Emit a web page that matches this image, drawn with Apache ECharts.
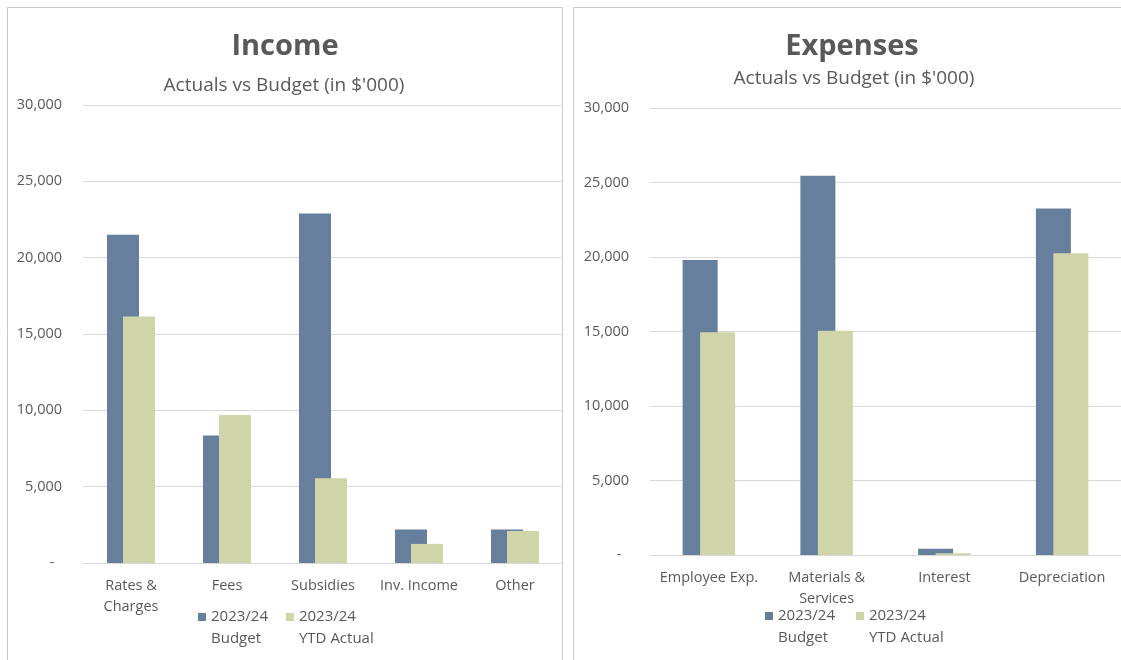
<!DOCTYPE html>
<html>
<head>
<meta charset="utf-8">
<title>Income and Expenses</title>
<script src="https://cdn.jsdelivr.net/npm/echarts@6/dist/echarts.min.js"></script>
<style>
  html, body { margin: 0; padding: 0; background: #ffffff; overflow: hidden; }
  #chart { width: 1121px; height: 660px; }
</style>
</head>
<body>
<div id="chart"></div>
<script>
// Income panel
const incomeCategories = ['Rates &\nCharges', 'Fees', 'Subsidies', 'Inv. Income', 'Other'];
const incomeBudget = [21500, 8350, 22900, 2200, 2200];
const incomeActual = [16150, 9700, 5550, 1250, 2100];

// Expenses panel
const expenseCategories = ['Employee Exp.', 'Materials &\nServices', 'Interest', 'Depreciation'];
const expenseBudget = [19800, 25450, 420, 23250];
const expenseActual = [14950, 15050, 110, 20250];

// Shared value axis
const axisMin = 0;
const axisMax = 30000;
const axisStep = 5000;

const seriesNames = ['2023/24 Budget', '2023/24 YTD Actual'];

const FONT = '"Open Sans", "Noto Sans", sans-serif';
const TEXT = '#595959';
const GRID = '#d9d9d9';
const BUDGET = '#657f9c';
const ACTUAL = '#d0d5a9';

const chart = echarts.init(document.getElementById('chart'), null, { renderer: 'canvas' });

function valueAxis(gridIndex) {
  return {
    type: 'value',
    gridIndex: gridIndex,
    min: axisMin,
    max: axisMax,
    interval: axisStep,
    axisLine: { show: false },
    axisTick: { show: false },
    splitLine: { lineStyle: { color: GRID, width: 1 } },
    axisLabel: {
      margin: 21,
      color: TEXT,
      fontFamily: FONT,
      fontSize: 14.5,
      formatter: v => (v === 0 ? '-  ' : v.toLocaleString('en-US'))
    }
  };
}

function categoryAxis(gridIndex, data) {
  return {
    type: 'category',
    gridIndex: gridIndex,
    data: data,
    axisTick: { show: false },
    axisLine: { lineStyle: { color: GRID, width: 1 } },
    axisLabel: {
      margin: 12,
      interval: 0,
      color: TEXT,
      fontFamily: FONT,
      fontSize: 14.5,
      lineHeight: 21.5
    }
  };
}

// Legend entries wrap onto two lines; a blank leading line keeps the
// colour swatch level with the first line of text.
function legendAt(left, top, gap) {
  return {
    left: left,
    top: top,
    padding: 0,
    orient: 'horizontal',
    itemWidth: 8,
    itemHeight: 8,
    itemGap: gap,
    icon: 'rect',
    selectedMode: false,
    data: seriesNames,
    formatter: name => ' \n' + name.replace(' ', '\n'),
    textStyle: {
      color: TEXT,
      fontFamily: FONT,
      fontSize: 15,
      lineHeight: 22
    }
  };
}

function bars(name, color, xIdx, data, width) {
  return {
    name: name,
    type: 'bar',
    xAxisIndex: xIdx,
    yAxisIndex: xIdx,
    data: data,
    barWidth: width,
    barGap: '-50%',
    itemStyle: { color: color },
    emphasis: { disabled: true },
    animation: false
  };
}

function heading(x, y, text, size, weight) {
  return {
    type: 'text',
    x: x,
    y: y,
    silent: true,
    style: {
      text: text,
      fill: TEXT,
      font: weight + ' ' + size + 'px ' + FONT,
      align: 'center',
      verticalAlign: 'middle',
      textAlign: 'center',
      textVerticalAlign: 'middle'
    }
  };
}

chart.setOption({
  animation: false,
  backgroundColor: '#ffffff',
  grid: [
    { left: 83, top: 105, width: 480, height: 458, containLabel: false },
    { left: 650, top: 108, width: 480, height: 447, containLabel: false }
  ],
  xAxis: [
    categoryAxis(0, incomeCategories),
    categoryAxis(1, expenseCategories)
  ],
  yAxis: [valueAxis(0), valueAxis(1)],
  legend: [
    legendAt(198, 584, 18),
    legendAt(765, 583, 21)
  ],
  series: [
    bars(seriesNames[0], BUDGET, 0, incomeBudget, 32),
    bars(seriesNames[1], ACTUAL, 0, incomeActual, 32),
    bars(seriesNames[0], BUDGET, 1, expenseBudget, 35),
    bars(seriesNames[1], ACTUAL, 1, expenseActual, 35)
  ],
  graphic: [
    {
      type: 'rect', silent: true, z: 100,
      shape: { x: 7.5, y: 7.5, width: 555, height: 680 },
      style: { fill: 'none', stroke: '#c8c8c8', lineWidth: 1 }
    },
    {
      type: 'rect', silent: true, z: 100,
      shape: { x: 573.5, y: 7.5, width: 600, height: 680 },
      style: { fill: 'none', stroke: '#c8c8c8', lineWidth: 1 }
    },
    heading(285, 47, 'Income', 29, 'bold'),
    heading(284, 86, "Actuals vs Budget (in $'000)", 19, 'normal'),
    heading(852, 47, 'Expenses', 29, 'bold'),
    heading(854, 79, "Actuals vs Budget (in $'000)", 19, 'normal')
  ]
});
</script>
</body>
</html>
